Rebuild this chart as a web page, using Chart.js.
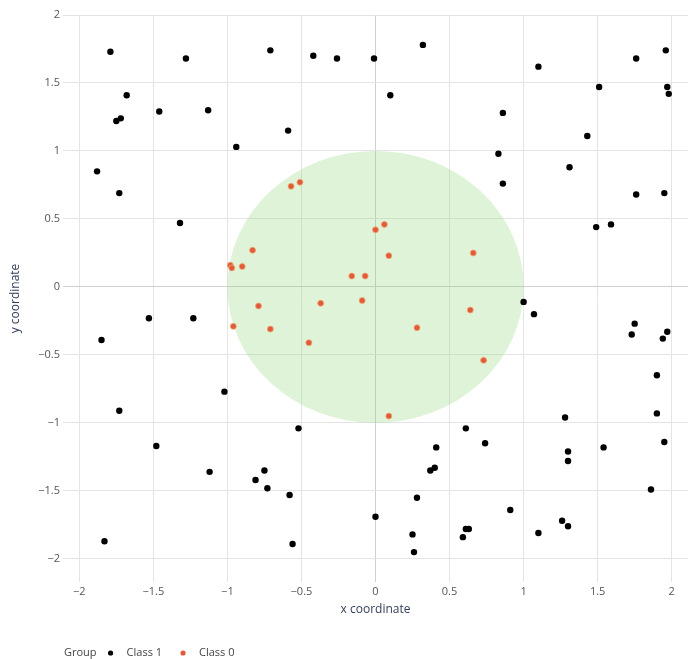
<!DOCTYPE html>
<html>
<head>
<meta charset="utf-8">
<script src="https://cdn.jsdelivr.net/npm/chart.js@4"></script>
<style>
  body { margin: 0; background: #fff; }
  #wrap { width: 695px; height: 659px; }
</style>
</head>
<body>
<div id="wrap"><canvas id="myChart"></canvas></div>
<script>
// class 1 points (black)
const class1X = [-1.79, -1.28, -0.71, -0.42, -0.26, -0.01, -1.68, -1.75, -1.72, -1.46, -1.13, -0.59, -0.94, -1.88, -1.73, -1.32,
  0.32, 0.10, 1.10, 1.51, 1.76, 1.96, 1.97, 1.98, 0.86, 1.43, 0.83, 1.31, 0.86, 1.76, 1.95, 1.49, 1.59,
  -1.53, -1.23, -1.85, -1.02, -1.73, -0.52, -1.48, -1.12, -0.75, -0.81, -0.73, -0.58, 0.00, -1.83, -0.56,
  1.00, 1.07, 1.75, 1.73, 1.97, 1.94, 1.90, 1.90, 1.28, 1.95, 0.61, 0.74, 1.30, 1.30, 1.54, 0.41, 0.40, 0.37,
  1.86, 0.28, 0.91, 0.25, 0.26, 0.61, 0.63, 0.59, 1.10, 1.26, 1.30]
const class1Y = [1.73, 1.68, 1.74, 1.70, 1.68, 1.68, 1.41, 1.22, 1.24, 1.29, 1.30, 1.15, 1.03, 0.85, 0.69, 0.47,
  1.78, 1.41, 1.62, 1.47, 1.68, 1.74, 1.47, 1.42, 1.28, 1.11, 0.98, 0.88, 0.76, 0.68, 0.69, 0.44, 0.46,
  -0.23, -0.23, -0.39, -0.77, -0.91, -1.04, -1.17, -1.36, -1.35, -1.42, -1.48, -1.53, -1.69, -1.87, -1.89,
  -0.11, -0.20, -0.27, -0.35, -0.33, -0.38, -0.65, -0.93, -0.96, -1.14, -1.04, -1.15, -1.21, -1.28, -1.18, -1.18, -1.33, -1.35,
  -1.49, -1.55, -1.64, -1.82, -1.95, -1.78, -1.78, -1.84, -1.81, -1.72, -1.76]

// class 0 points (red)
const class0X = [-0.57, -0.51, 0.00, 0.06, 0.09, 0.66, -0.83, -0.98, -0.97, -0.90, -0.16, -0.07, -0.09, -0.79, -0.37,
  -0.96, -0.71, -0.45, 0.64, 0.28, 0.73, 0.09]
const class0Y = [0.74, 0.77, 0.42, 0.46, 0.23, 0.25, 0.27, 0.16, 0.14, 0.15, 0.08, 0.08, -0.10, -0.14, -0.12,
  -0.29, -0.31, -0.41, -0.17, -0.30, -0.54, -0.95]

const xTicks = [-2, -1.5, -1, -0.5, 0, 0.5, 1, 1.5, 2]
const yTicks = [-2, -1.5, -1, -0.5, 0, 0.5, 1, 1.5, 2]
const circleCenter = [0, 0]
const circleRadius = 1

const toPoints = (xs, ys) => xs.map((x, i) => ({ x: x, y: ys[i] }))
const fmt = v => String(v).replace('-', '\u2212')

const circlePlugin = {
  id: 'circle',
  beforeDatasetsDraw(chart) {
    const { ctx, chartArea, scales } = chart
    const cx = scales.x.getPixelForValue(circleCenter[0])
    const cy = scales.y.getPixelForValue(circleCenter[1])
    const rx = scales.x.getPixelForValue(circleCenter[0] + circleRadius) - cx
    const ry = cy - scales.y.getPixelForValue(circleCenter[1] + circleRadius)
    ctx.save()
    ctx.beginPath()
    ctx.rect(chartArea.left, chartArea.top, chartArea.right - chartArea.left, chartArea.bottom - chartArea.top)
    ctx.clip()
    ctx.beginPath()
    ctx.ellipse(cx, cy, rx, ry, 0, 0, Math.PI * 2)
    ctx.fillStyle = 'rgba(150, 215, 130, 0.3)'
    ctx.fill()
    ctx.restore()
  }
}

const groupLegend = {
  id: 'groupLegend',
  afterDraw(chart) {
    const ctx = chart.ctx
    const y = 653
    ctx.save()
    ctx.font = '11px "Open Sans"'
    ctx.textBaseline = 'middle'
    ctx.fillStyle = '#444'
    let x = chart.chartArea.left + 1
    ctx.fillText('Group', x, y)
    x += ctx.measureText('Group').width + 14
    chart.data.datasets.forEach(ds => {
      ctx.beginPath()
      ctx.arc(x, y, 2.6, 0, Math.PI * 2)
      ctx.fillStyle = ds.backgroundColor
      ctx.fill()
      ctx.fillStyle = '#444'
      ctx.fillText(ds.label, x + 16, y)
      x += 16 + ctx.measureText(ds.label).width + 21
    })
    ctx.restore()
  }
}

let ctx = document.getElementById('myChart')
let myChart = new Chart(ctx, {
  type: 'scatter',
  data: {
    datasets: [{
      label: 'Class 1',
      data: toPoints(class1X, class1Y),
      backgroundColor: '#000000',
      borderColor: '#000000',
      borderWidth: 0,
      pointRadius: 3.2
    }, {
      label: 'Class 0',
      data: toPoints(class0X, class0Y),
      backgroundColor: '#e05a3c',
      borderColor: 'rgba(240, 170, 110, 0.8)',
      borderWidth: 1,
      pointRadius: 3
    }]
  },
  plugins: [circlePlugin, groupLegend],
  options: {
    responsive: true,
    maintainAspectRatio: false,
    animation: false,
    layout: { padding: { top: 15, right: 7, left: 0, bottom: 40 } },
    plugins: {
      legend: { display: false },
      tooltip: { enabled: false }
    },
    scales: {
      x: {
        type: 'linear',
        min: -2.11,
        max: 2.11,
        afterBuildTicks: scale => { scale.ticks = xTicks.map(v => ({ value: v })) },
        afterFit: scale => { scale.height = 37 },
        grid: {
          drawTicks: false,
          color: c => c.tick && c.tick.value === 0 ? '#cfcfcf' : '#e4e4e4'
        },
        border: { display: false },
        ticks: {
          padding: 3,
          color: '#555',
          font: { family: 'Open Sans', size: 11 },
          callback: v => fmt(v)
        },
        title: {
          display: true,
          text: 'x coordinate',
          color: '#34405a',
          font: { family: 'Open Sans', size: 12 },
          padding: { top: 0, bottom: 2 }
        }
      },
      y: {
        type: 'linear',
        min: -2.17,
        max: 2,
        afterBuildTicks: scale => { scale.ticks = yTicks.map(v => ({ value: v })) },
        afterFit: scale => { scale.width = 63 },
        grid: {
          drawTicks: false,
          color: c => c.tick && c.tick.value === 0 ? '#cfcfcf' : '#e4e4e4'
        },
        border: { display: false },
        ticks: {
          padding: 3,
          color: '#555',
          font: { family: 'Open Sans', size: 11 },
          callback: v => fmt(v)
        },
        title: {
          display: true,
          text: 'y coordinate',
          color: '#34405a',
          font: { family: 'Open Sans', size: 12 },
          padding: { top: 8, bottom: 0 }
        }
      }
    }
  }
})
</script>
</body>
</html>
